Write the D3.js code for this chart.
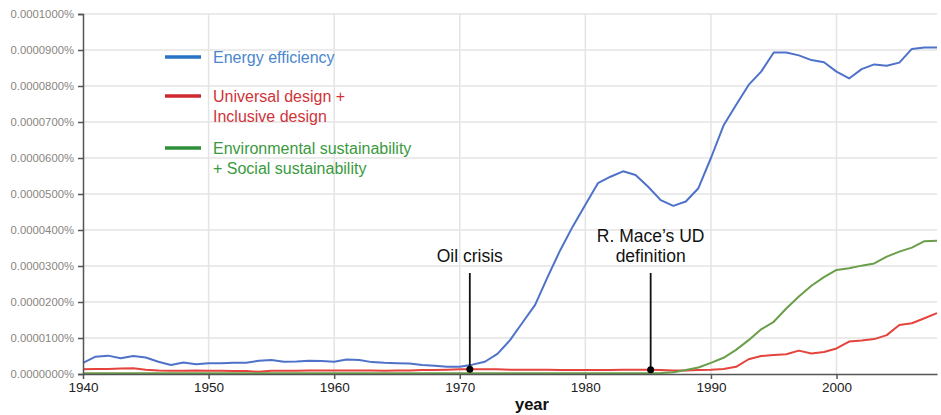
<!DOCTYPE html>
<html lang="en">
<head>
<meta charset="UTF-8">
<title>Ngram chart</title>
<script src="https://d3js.org/d3.v7.min.js"></script>
<style>
  body { margin: 0; background: #fff; }
  svg { display: block; font-family: "Liberation Sans", Arial, sans-serif; }
</style>
</head>
<body>
<div id="chart"></div>
<script>
// years 1940..2008, values in units of 0.000001 %
const years = d3.range(1940, 2009);

const energyEfficiency = [
  3.1, 4.8, 5.1, 4.4, 5.0, 4.6, 3.4, 2.5, 3.2, 2.7,
  3.0, 3.0, 3.1, 3.1, 3.7, 3.9, 3.4, 3.5, 3.7, 3.6,
  3.4, 4.0, 3.9, 3.3, 3.1, 3.0, 2.9, 2.5, 2.3, 2.0,
  2.0, 2.6, 3.4, 5.6, 9.4, 14.3, 19.2, 27.0, 34.4, 41.0,
  47.0, 53.0, 54.8, 56.3, 55.3, 52.0, 48.3, 46.7, 47.9, 51.6,
  60.0, 69.0, 74.7, 80.3, 84.0, 89.3, 89.3, 88.5, 87.2, 86.6,
  84.0, 82.1, 84.7, 86.0, 85.6, 86.5, 90.3, 90.7, 90.7
];

const universalDesign = [
  1.3, 1.4, 1.4, 1.5, 1.6, 1.2, 1.0, 0.9, 0.9, 1.0,
  0.9, 0.9, 0.8, 0.8, 0.6, 0.9, 0.9, 0.9, 1.0, 1.0,
  1.0, 1.0, 1.0, 1.0, 0.9, 1.0, 1.0, 1.1, 1.1, 1.2,
  1.3, 1.3, 1.3, 1.3, 1.2, 1.2, 1.2, 1.2, 1.1, 1.1,
  1.1, 1.1, 1.1, 1.2, 1.2, 1.2, 1.1, 1.0, 1.0, 1.1,
  1.2, 1.4, 2.0, 4.1, 5.0, 5.3, 5.5, 6.5, 5.7, 6.1,
  7.1, 9.0, 9.3, 9.7, 10.8, 13.6, 14.1, 15.5, 16.9
];

const sustainability = [
  0.2, 0.2, 0.2, 0.2, 0.2, 0.2, 0.2, 0.2, 0.2, 0.2,
  0.2, 0.2, 0.2, 0.2, 0.2, 0.2, 0.2, 0.2, 0.2, 0.2,
  0.2, 0.2, 0.2, 0.2, 0.2, 0.2, 0.2, 0.2, 0.2, 0.2,
  0.2, 0.2, 0.2, 0.2, 0.2, 0.2, 0.2, 0.2, 0.2, 0.2,
  0.2, 0.2, 0.2, 0.2, 0.2, 0.2, 0.3, 0.5, 1.1, 1.8,
  3.1, 4.5, 6.7, 9.4, 12.4, 14.5, 18.2, 21.5, 24.5, 26.9,
  28.9, 29.4, 30.1, 30.7, 32.6, 34.0, 35.1, 36.9, 37.0
];

const seriesNames = [
  ["Energy efficiency"],
  ["Universal design +", "Inclusive design"],
  ["Environmental sustainability", "+ Social sustainability"]
];

const yTicks = d3.range(0, 101, 10);
const xTicks = [1940, 1950, 1960, 1970, 1980, 1990, 2000];

// annotations: year, value (sits on the red line), label lines
const annotations = [
  { year: 1970.8, value: 1.3, label: ["Oil crisis"] },
  { year: 1985.2, value: 1.2, label: ["R. Mace\u2019s UD", "definition"] }
];

const width = 941, height = 415;
const margin = { top: 14, right: 4, bottom: 41, left: 83 };

const svg = d3.select("#chart").append("svg")
  .attr("width", width)
  .attr("height", height);

const x = d3.scaleLinear()
  .domain([1940, 2008])
  .range([margin.left, width - margin.right]);

const y = d3.scaleLinear()
  .domain([0, 100])
  .range([height - margin.bottom, margin.top]);

// grid
svg.append("g")
  .selectAll("line")
  .data(yTicks.slice(1))
  .join("line")
  .attr("x1", x(1940)).attr("x2", x(2008))
  .attr("y1", d => y(d)).attr("y2", d => y(d))
  .attr("stroke", "#e4e4e4").attr("stroke-width", 1.5);

svg.append("g")
  .selectAll("line")
  .data(xTicks.slice(1))
  .join("line")
  .attr("x1", d => x(d)).attr("x2", d => x(d))
  .attr("y1", y(100)).attr("y2", y(0))
  .attr("stroke", "#e4e4e4").attr("stroke-width", 1.5);

// series lines
const line = d3.line()
  .x((d, i) => x(years[i]))
  .y(d => y(d));

const lineColors = ["#4f72c9", "#e5433d", "#6b9e4a"];
[energyEfficiency, universalDesign, sustainability].forEach((vals, k) => {
  svg.append("path")
    .datum(vals)
    .attr("fill", "none")
    .attr("stroke", lineColors[k])
    .attr("stroke-width", 2)
    .attr("stroke-linejoin", "round")
    .attr("d", line);
});

// axes
const yAxis = svg.append("g")
  .attr("transform", `translate(${margin.left},0)`)
  .call(d3.axisLeft(y).tickValues(yTicks).tickSize(5).tickPadding(4)
    .tickFormat(d => (d * 1e-6).toFixed(7) + "%"));
yAxis.select(".domain").attr("stroke", "#555").attr("stroke-width", 1.5);
yAxis.selectAll(".tick line").attr("stroke", "#555").attr("stroke-width", 1.5);
yAxis.selectAll("text").attr("fill", "#8a8580").style("font-size", "11.3px");

const xAxis = svg.append("g")
  .attr("transform", `translate(0,${y(0)})`)
  .call(d3.axisBottom(x).tickValues(xTicks).tickSize(5).tickPadding(3)
    .tickFormat(d3.format("d")).tickSizeOuter(0));
xAxis.select(".domain").attr("stroke", "#555").attr("stroke-width", 1.5);
xAxis.selectAll(".tick line").attr("stroke", "#555").attr("stroke-width", 1.5);
xAxis.selectAll("text").attr("fill", "#222").style("font-size", "13.5px");

svg.append("text")
  .attr("x", 532).attr("y", 410)
  .attr("text-anchor", "middle")
  .attr("fill", "#111")
  .style("font-size", "16.5px")
  .style("font-weight", "bold")
  .text("year");

// legend
const legendLine = ["#2a72c4", "#cc2a30", "#2e8f3a"];
const legendText = ["#4a86d0", "#d0343a", "#3a9a40"];
const legendY = [57, 96, 148];
const legend = svg.append("g");
seriesNames.forEach((lines, k) => {
  legend.append("line")
    .attr("x1", 165).attr("x2", 201)
    .attr("y1", legendY[k]).attr("y2", legendY[k])
    .attr("stroke", legendLine[k]).attr("stroke-width", 3.5);
  const t = legend.append("text")
    .attr("x", 213).attr("y", legendY[k] + 6)
    .attr("fill", legendText[k])
    .style("font-size", "16px");
  lines.forEach((s, j) => {
    t.append("tspan").attr("x", 213).attr("dy", j ? 19.5 : 0).text(s);
  });
});

// annotations
const ann = svg.append("g").selectAll("g").data(annotations).join("g");
ann.append("line")
  .attr("x1", d => x(d.year)).attr("x2", d => x(d.year))
  .attr("y1", 273).attr("y2", d => y(d.value))
  .attr("stroke", "#111").attr("stroke-width", 1.8);
ann.append("circle")
  .attr("cx", d => x(d.year)).attr("cy", d => y(d.value))
  .attr("r", 3.5).attr("fill", "#000");
ann.append("text")
  .attr("text-anchor", "middle")
  .attr("fill", "#111")
  .style("font-size", "17.5px")
  .each(function (d) {
    const n = d.label.length;
    d.label.forEach((s, j) => {
      d3.select(this).append("tspan")
        .attr("x", x(d.year))
        .attr("y", 262 - (n - 1 - j) * 20)
        .text(s);
    });
  });
</script>
</body>
</html>
